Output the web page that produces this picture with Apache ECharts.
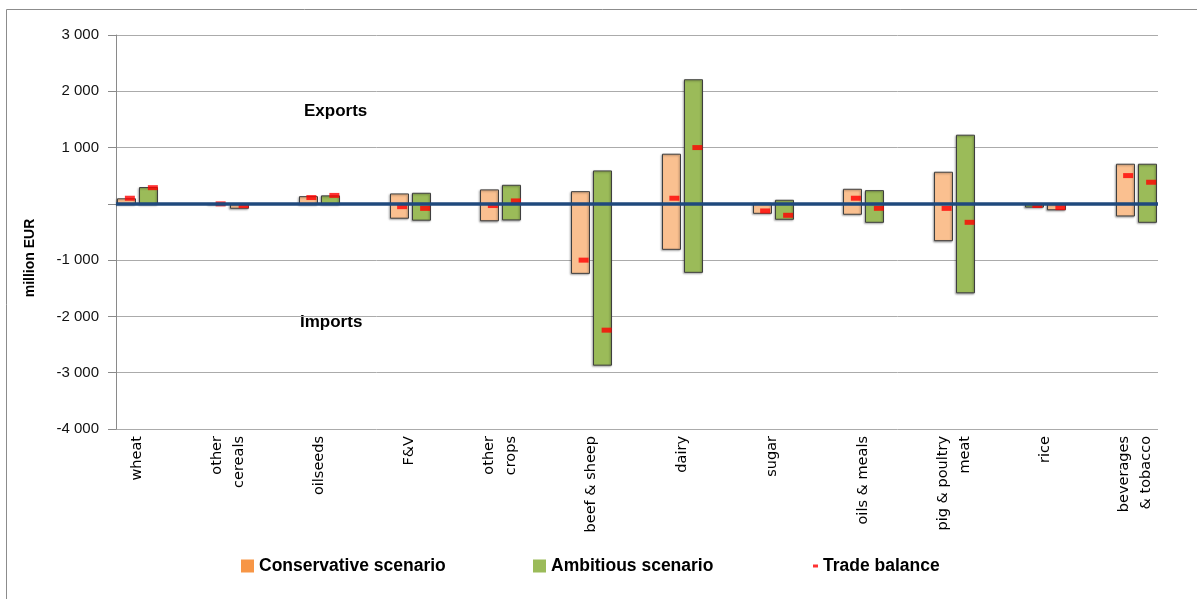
<!DOCTYPE html>
<html>
<head>
<meta charset="utf-8">
<script src="https://cdn.jsdelivr.net/npm/echarts@6/dist/echarts.min.js"></script>
<style>
  html, body { margin: 0; padding: 0; background: #ffffff; }
  #chart { width: 1197px; height: 599px; }
</style>
</head>
<body>
<div id="chart"></div>
<script>
// Product groups on the horizontal axis
const categories = [
  'wheat', 'other\ncereals', 'oilseeds', 'F&V', 'other\ncrops', 'beef & sheep',
  'dairy', 'sugar', 'oils & meals', 'pig & poultry\nmeat', 'rice', 'beverages\n& tobacco'
];

// Change in exports / imports (million EUR); a bar spans from one to the other
const consExports = [90, 5, 128, 176, 248, 217, 882, 10, 259, 562, -58, 704];
const consImports = [-8, -5, -8, -255, -300, -1235, -808, -168, -185, -654, -12, -215];
const ambExports  = [290, -78, 142, 188, 330, 585, 2205, 64, 235, 1220, -105, 704];
const ambImports  = [-8, -12, -5, -290, -285, -2866, -1217, -274, -328, -1580, -12, -328];

// Trade balance markers (million EUR)
const consBalance = [100, 0, 112, -50, -30, -1000, 100, -126, 100, -80, -28, 502];
const ambBalance  = [288, -32, 150, -80, 52, -2244, 1000, -203, -79, -328, -67, 384];

// Value axis
const yMin = -4000, yMax = 3000, yStep = 1000;
const yTickLabels = ['-4 000', '-3 000', '-2 000', '-1 000', '', '1 000', '2 000', '3 000'];

const ORANGE_FILL = '#FAC090';
const ORANGE_KEY = '#F79646';
const GREEN = '#9BBB59';
const RED = '#FF0000';

// Floating range bar drawn between the export and import values;
// when exports sit below imports the bar takes the alternate colour.
function rangeBars(name, exportsArr, importsArr, offset, upColor, downColor) {
  return {
    name: name,
    type: 'custom',
    xAxisIndex: 1,
    yAxisIndex: 1,
    z: 2,
    itemStyle: { color: upColor },
    data: categories.map((c, i) => [i, exportsArr[i], importsArr[i]]),
    encode: { x: 0, y: [1, 2] },
    renderItem: function (params, api) {
      const i = api.value(0);
      const e = api.value(1), m = api.value(2);
      const a = api.coord([i, e]);
      const b = api.coord([i, m]);
      const w = 18;
      const x = Math.round(a[0] + offset - w / 2) + 0.5;
      const top = Math.min(a[1], b[1]);
      const h = Math.abs(a[1] - b[1]);
      return {
        type: 'rect',
        shape: { x: x, y: top, width: w, height: h },
        style: {
          fill: e >= m ? upColor : downColor,
          stroke: '#3f3f3f',
          lineWidth: 1,
          shadowBlur: 2,
          shadowColor: 'rgba(0,0,0,0.35)',
          shadowOffsetX: -1,
          shadowOffsetY: 1
        }
      };
    }
  };
}

function balanceMarks(data, offsetX) {
  return {
    name: 'Trade balance',
    type: 'scatter',
    xAxisIndex: 1,
    yAxisIndex: 1,
    z: 4,
    symbol: 'rect',
    symbolSize: [10, 5],
    symbolOffset: [offsetX, 0],
    itemStyle: { color: RED },
    data: data
  };
}

const chart = echarts.init(document.getElementById('chart'), null, { renderer: 'canvas' });

const legendText = { fontFamily: 'Liberation Sans', fontWeight: 'bold', fontSize: 17.5, color: '#000' };

chart.setOption({
  animation: false,
  backgroundColor: '#ffffff',
  grid: [
    // frame with gridlines and the value axis
    { left: 116, right: 39, top: 35, bottom: 170 },
    // category bands for the bars
    { left: 92, right: 16, top: 35, bottom: 170 }
  ],
  xAxis: [
    { gridIndex: 0, type: 'category', data: categories, show: false },
    {
      gridIndex: 1, type: 'category', data: categories,
      axisLine: { show: false }, axisTick: { show: false },
      axisLabel: {
        interval: 0, rotate: 90, margin: 7,
        fontFamily: 'DejaVu Sans', fontSize: 14.5, color: '#000', lineHeight: 22
      }
    }
  ],
  yAxis: [
    {
      gridIndex: 0, type: 'value', min: yMin, max: yMax, interval: yStep,
      axisLine: { show: true, lineStyle: { color: '#8a8a8a', width: 1 } },
      axisTick: { show: true, length: 8, lineStyle: { color: '#8a8a8a' } },
      axisLabel: {
        margin: 17, fontFamily: 'Liberation Sans', fontSize: 15, color: '#111',
        formatter: v => yTickLabels[Math.round((v - yMin) / yStep)]
      },
      splitLine: { show: true, lineStyle: { color: '#ABABAB', width: 1 } }
    },
    { gridIndex: 1, type: 'value', min: yMin, max: yMax, interval: yStep, show: false }
  ],
  legend: [
    {
      left: 241, top: 557, padding: 0, itemWidth: 13, itemHeight: 13, textStyle: legendText,
      data: [{ name: 'Conservative scenario', icon: 'rect', itemStyle: { color: ORANGE_KEY, borderWidth: 0 } }]
    },
    {
      left: 533, top: 557, padding: 0, itemWidth: 13, itemHeight: 13, textStyle: legendText,
      data: [{ name: 'Ambitious scenario', icon: 'rect', itemStyle: { color: GREEN, borderWidth: 0 } }]
    },
    {
      left: 813, top: 557, padding: 0, itemWidth: 5, itemHeight: 3, textStyle: legendText,
      data: [{ name: 'Trade balance', icon: 'rect', itemStyle: { color: RED, borderWidth: 0 } }]
    }
  ],
  graphic: [
    {
      type: 'rect', silent: true, z: -1,
      shape: { x: 6.5, y: 9.5, width: 1300, height: 700 },
      style: { fill: 'none', stroke: '#8c8c8c', lineWidth: 1 }
    },
    {
      type: 'text', left: 304, top: 103,
      style: { text: 'Exports', font: 'bold 17px "Liberation Sans"', fill: '#000' }
    },
    {
      type: 'text', left: 300, top: 314,
      style: { text: 'Imports', font: 'bold 17px "Liberation Sans"', fill: '#000' }
    },
    {
      type: 'text', x: 30, y: 258, rotation: Math.PI / 2,
      style: {
        text: 'million EUR', font: 'bold 14px "Liberation Sans"', fill: '#000',
        align: 'center', verticalAlign: 'middle'
      }
    }
  ],
  series: [
    rangeBars('Conservative scenario', consExports, consImports, -11, ORANGE_FILL, GREEN),
    rangeBars('Ambitious scenario', ambExports, ambImports, 11, GREEN, ORANGE_FILL),
    {
      name: 'zero',
      type: 'line',
      xAxisIndex: 0,
      yAxisIndex: 0,
      z: 3,
      data: [],
      markLine: {
        silent: true,
        symbol: ['none', 'none'],
        label: { show: false },
        lineStyle: { color: '#1F497D', width: 3.5, type: 'solid' },
        data: [{ yAxis: 0 }]
      }
    },
    balanceMarks(consBalance, -7.5),
    balanceMarks(ambBalance, 15.5)
  ]
});
</script>
</body>
</html>
